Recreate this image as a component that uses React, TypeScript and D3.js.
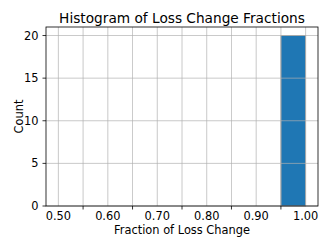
import React from "react";
import * as d3 from "d3";

const binEdges = [0.95, 1.0];
const binCounts = [20];
const xLabelTicks = [0.5, 0.6, 0.7, 0.8, 0.9, 1.0];
const xMarkTicks = [0.55, 0.65, 0.75, 0.85, 0.95];
const yTicks = [0, 5, 10, 15, 20];
const title = "Histogram of Loss Change Fractions";
const xTitle = "Fraction of Loss Change";
const yTitle = "Count";

export default function App() {
  const W = 332, H = 249;
  const L = 46, R = 318, T = 27, B = 206;
  const x = d3.scaleLinear().domain([0.475, 1.025]).range([L, R]);
  const y = d3.scaleLinear().domain([0, 21]).range([B, T]);
  const font = "DejaVu Sans, sans-serif";
  const fs = 11.4;
  const gridX = [...xLabelTicks, ...xMarkTicks];
  return (
    <svg width={W} height={H} style={{ position: "absolute", left: 0, top: 0 }}>
      <rect x={0} y={0} width={W} height={H} fill="white" />
      {binCounts.map((c, i) => (
        <rect key={i} x={x(binEdges[i])} y={y(c)} width={x(binEdges[i + 1]) - x(binEdges[i])} height={y(0) - y(c)} fill="#1f77b4" stroke="#9a9a9a" strokeWidth={0.8} />
      ))}
      {gridX.map((v, i) => (
        <line key={"gx" + i} x1={x(v)} x2={x(v)} y1={T} y2={B} stroke="#b0b0b0" strokeWidth={0.8} opacity={0.85} />
      ))}
      {yTicks.map((v, i) => (
        <line key={"gy" + i} x1={L} x2={R} y1={y(v)} y2={y(v)} stroke="#b0b0b0" strokeWidth={0.8} opacity={0.85} />
      ))}
      <rect x={L} y={T} width={R - L} height={B - T} fill="none" stroke="black" strokeWidth={0.8} />
      {xMarkTicks.map((v, i) => (
        <line key={"xt" + i} x1={x(v)} x2={x(v)} y1={B} y2={B + 3.5} stroke="black" strokeWidth={0.8} />
      ))}
      {xLabelTicks.map((v, i) => (
        <text key={"xl" + i} x={x(v)} y={220} textAnchor="middle" fontFamily={font} fontSize={fs} fill="black">{v.toFixed(2)}</text>
      ))}
      {yTicks.map((v, i) => (
        <g key={"yt" + i}>
          <line x1={L - 3.5} x2={L} y1={y(v)} y2={y(v)} stroke="black" strokeWidth={0.8} />
          <text x={L - 7.5} y={y(v) + 4.1} textAnchor="end" fontFamily={font} fontSize={fs} fill="black">{v}</text>
        </g>
      ))}
      <text x={(L + R) / 2} y={234} textAnchor="middle" fontFamily={font} fontSize={fs} fill="black">{xTitle}</text>
      <text transform={`translate(22.5,${(T + B) / 2}) rotate(-90)`} textAnchor="middle" fontFamily={font} fontSize={fs} fill="black">{yTitle}</text>
      <text x={(L + R) / 2} y={23.3} textAnchor="middle" fontFamily={font} fontSize={13.7} fill="black">{title}</text>
    </svg>
  );
}
